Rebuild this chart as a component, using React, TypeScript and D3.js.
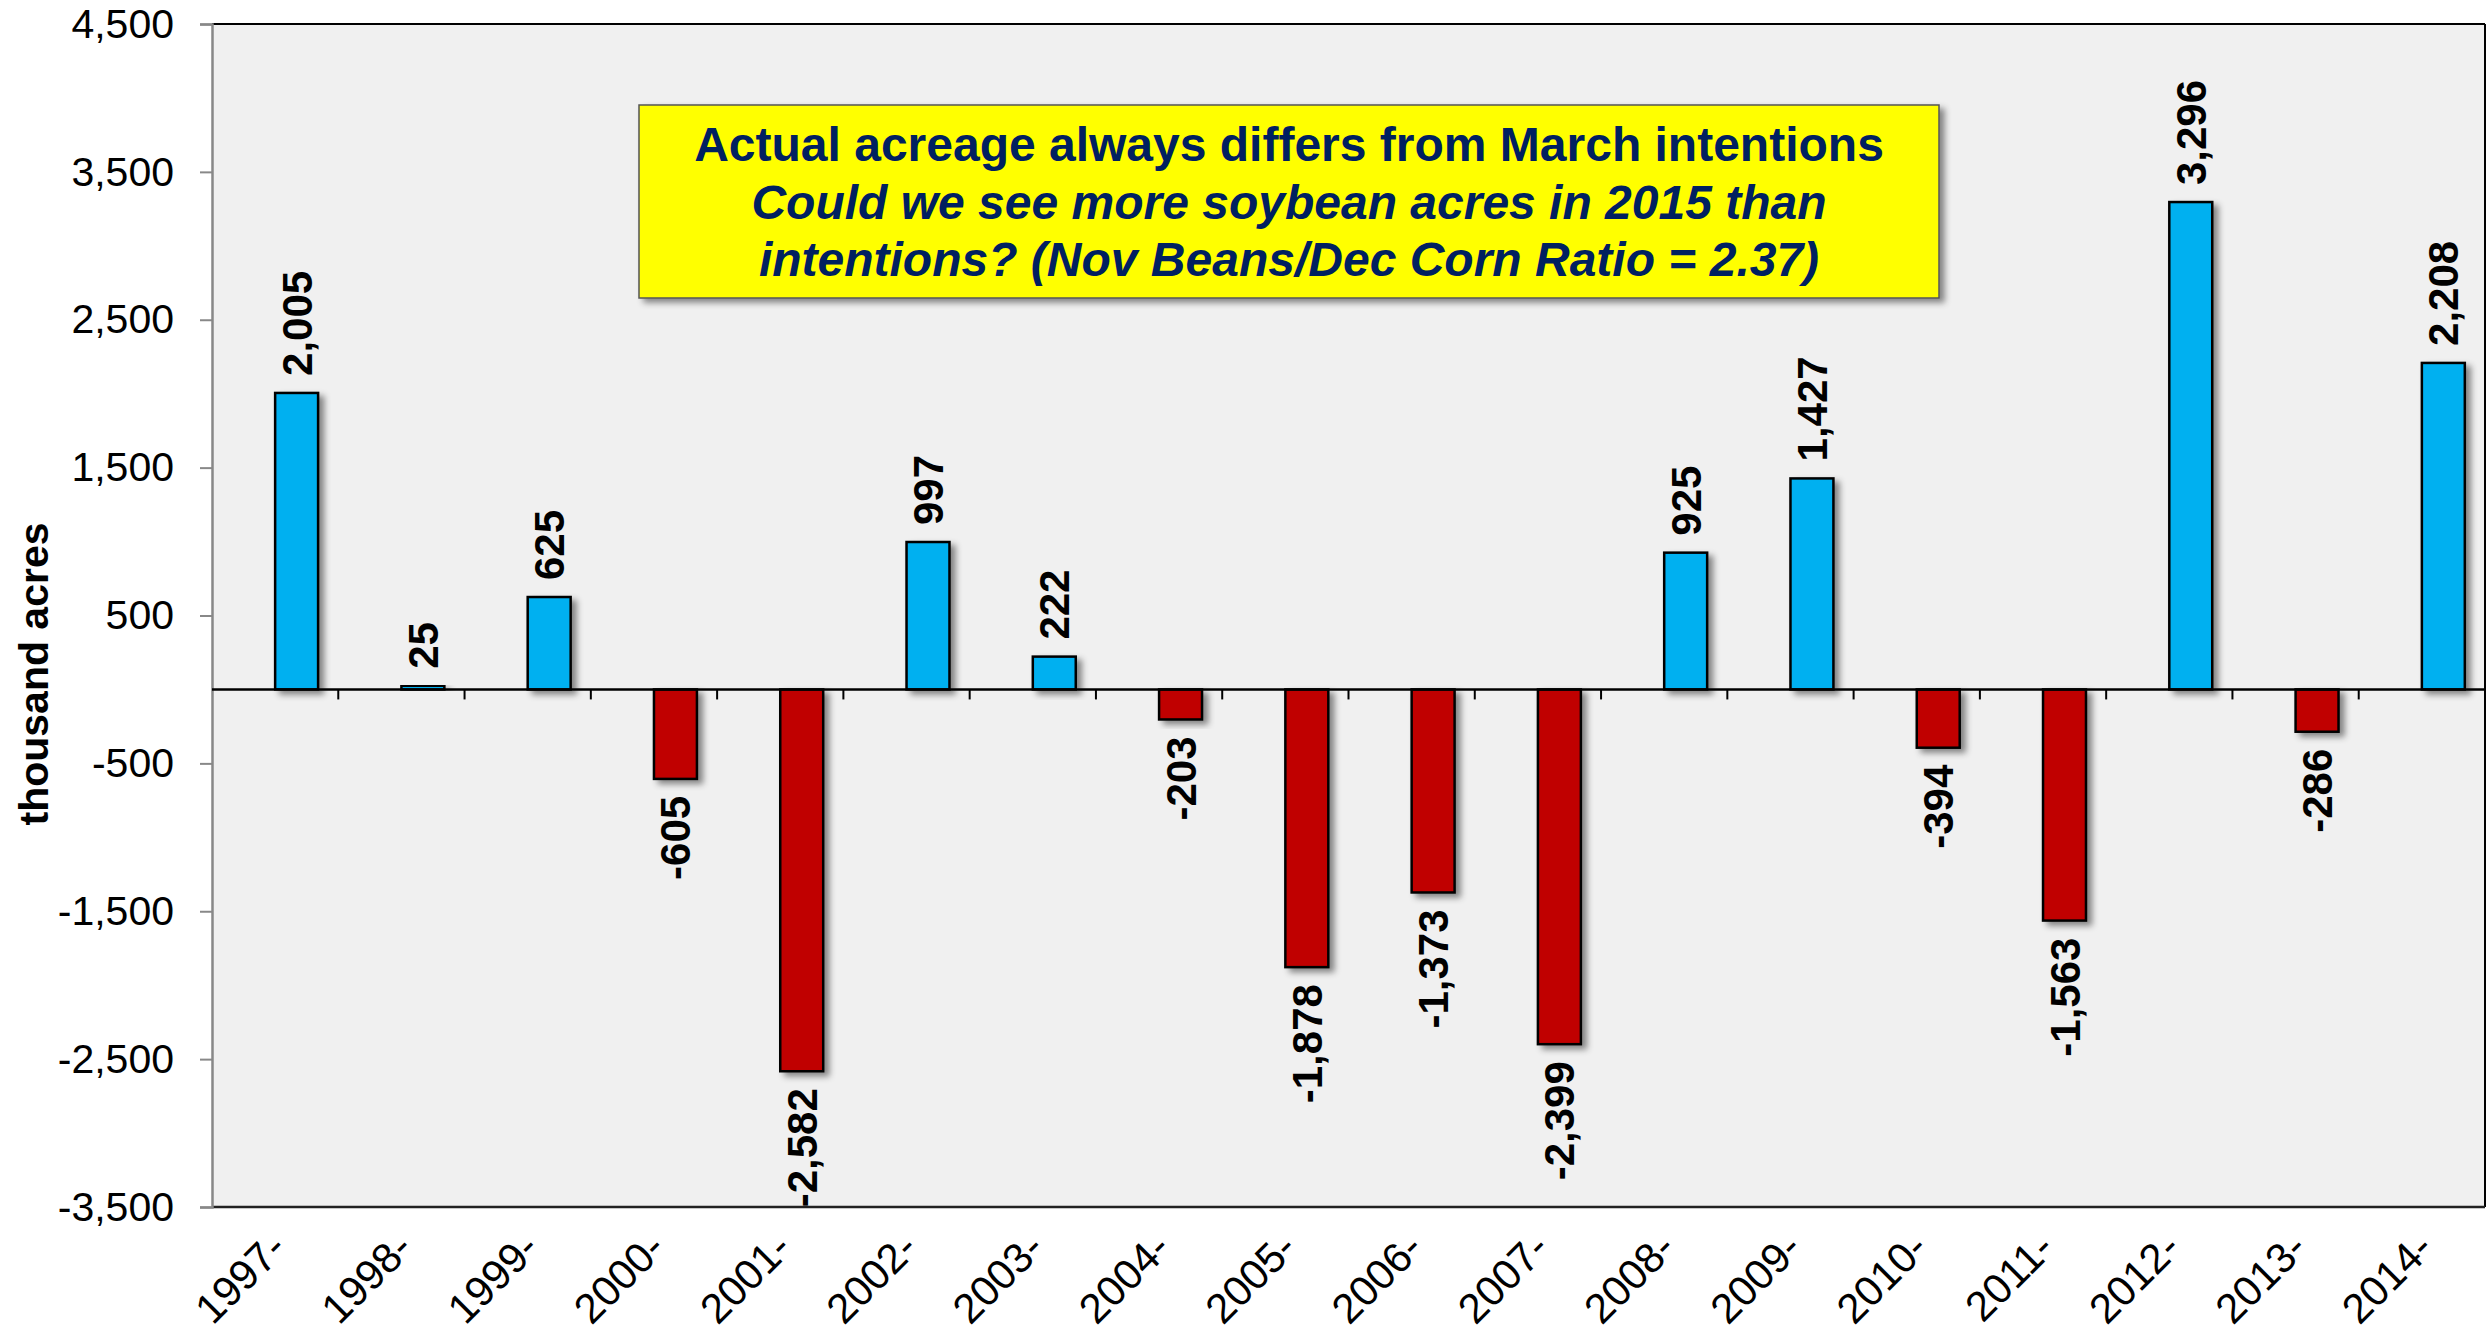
import React, { useRef, useEffect } from 'react';
import * as d3 from 'd3';

const years = ['1997-', '1998-', '1999-', '2000-', '2001-', '2002-', '2003-', '2004-', '2005-', '2006-', '2007-', '2008-', '2009-', '2010-', '2011-', '2012-', '2013-', '2014-'];
const diffs = [2005, 25, 625, -605, -2582, 997, 222, -203, -1878, -1373, -2399, 925, 1427, -394, -1563, 3296, -286, 2208];
const yTicks = [4500, 3500, 2500, 1500, 500, -500, -1500, -2500, -3500];
const titleLines = [
    'Actual acreage always differs from March intentions',
    'Could we see more soybean acres in 2015 than',
    'intentions? (Nov Beans/Dec Corn Ratio = 2.37)',
];

// plain hyphen for negatives, like the original
const fmt = d3.formatLocale({ decimal: '.', thousands: ',', grouping: [3], currency: ['$', ''], minus: '-' }).format(',');

const App = () => {
    const svgRef = useRef(null);

    useEffect(() => {
        document.body.style.margin = '0';
        drawChart();
    }, []);

    const drawChart = () => {
        const svg = d3.select(svgRef.current);
        svg.selectAll('*').remove();

        const width = 2486;
        const height = 1341;
        const left = 212, right = 2485, top = 24, bottom = 1207;
        const font = '"Liberation Sans", Arial, sans-serif';

        svg.attr('width', width).attr('height', height).style('display', 'block');
        svg.append('rect').attr('width', width).attr('height', height).attr('fill', '#fff');

        const defs = svg.append('defs');
        const shadow = defs.append('filter').attr('id', 'shadow')
            .attr('x', '-20%').attr('y', '-20%').attr('width', '150%').attr('height', '150%');
        shadow.append('feDropShadow').attr('dx', 5).attr('dy', 4).attr('stdDeviation', 3)
            .attr('flood-color', '#000').attr('flood-opacity', 0.45);

        const x = d3.scaleBand().domain(years).range([left, right]);
        // Excel-style cluster: an empty slot then the value bar
        const slot = d3.scaleBand().domain(['blank', 'value'])
            .range([0, x.bandwidth()]).paddingInner(0).paddingOuter(0.47);
        const y = d3.scaleLinear().domain([-3500, 4500]).range([bottom, top]);

        // plot background
        svg.append('rect')
            .attr('x', left).attr('y', top)
            .attr('width', right - left).attr('height', bottom - top)
            .attr('fill', '#f0f0f0');

        // frame
        svg.append('line').attr('x1', left).attr('x2', right).attr('y1', top).attr('y2', top)
            .attr('stroke', '#000').attr('stroke-width', 2);
        svg.append('line').attr('x1', right).attr('x2', right).attr('y1', top).attr('y2', bottom)
            .attr('stroke', '#000').attr('stroke-width', 2);
        svg.append('line').attr('x1', left).attr('x2', right).attr('y1', bottom).attr('y2', bottom)
            .attr('stroke', '#222').attr('stroke-width', 2.5);

        // y axis
        const yAxis = svg.append('g')
            .attr('transform', `translate(${left},0)`)
            .call(d3.axisLeft(y).tickValues(yTicks).tickSize(12).tickPadding(26)
                .tickFormat(fmt));
        yAxis.select('.domain').attr('stroke', '#888').attr('stroke-width', 2.5);
        yAxis.selectAll('.tick line').attr('stroke', '#888').attr('stroke-width', 2);
        yAxis.selectAll('.tick text')
            .attr('font-family', font).attr('font-size', 41).attr('fill', '#000');

        svg.append('text')
            .attr('transform', `translate(48,674) rotate(-90)`)
            .attr('text-anchor', 'middle')
            .attr('font-family', font).attr('font-size', 41).attr('font-weight', 'bold')
            .text('thousand acres');

        // bars
        svg.append('g').selectAll('rect')
            .data(diffs)
            .enter().append('rect')
            .attr('x', (d, i) => x(years[i]) + slot('value'))
            .attr('width', slot.bandwidth())
            .attr('y', d => y(Math.max(0, d)))
            .attr('height', d => Math.abs(y(d) - y(0)))
            .attr('fill', d => d >= 0 ? '#00b0f0' : '#c00000')
            .attr('stroke', '#000')
            .attr('stroke-width', 2.5)
            .attr('filter', 'url(#shadow)');

        // zero axis with category ticks
        svg.append('line').attr('x1', left).attr('x2', right).attr('y1', y(0)).attr('y2', y(0))
            .attr('stroke', '#000').attr('stroke-width', 2.5);
        svg.append('g').selectAll('line')
            .data(years.slice(1))
            .enter().append('line')
            .attr('x1', d => x(d)).attr('x2', d => x(d))
            .attr('y1', y(0)).attr('y2', y(0) + 10)
            .attr('stroke', '#000').attr('stroke-width', 2);

        // value labels
        svg.append('g').selectAll('text')
            .data(diffs)
            .enter().append('text')
            .attr('transform', (d, i) => {
                const cx = x(years[i]) + slot('value') + slot.bandwidth() / 2 + 15;
                const cy = d >= 0 ? y(d) - 17 : y(d) + 17;
                return `translate(${cx},${cy}) rotate(-90)`;
            })
            .attr('text-anchor', d => d >= 0 ? 'start' : 'end')
            .attr('font-family', font).attr('font-size', 42).attr('font-weight', 'bold')
            .attr('fill', '#000')
            .text(d => fmt(d));

        // category labels
        svg.append('g').selectAll('text')
            .data(years)
            .enter().append('text')
            .attr('transform', d => {
                const cx = x(d) + slot('value') + slot.bandwidth() / 2 - 8;
                return `translate(${cx},1250) rotate(-45)`;
            })
            .attr('text-anchor', 'end')
            .attr('font-family', font).attr('font-size', 42)
            .attr('fill', '#000')
            .text(d => d);

        // annotation box
        const bx = 639, by = 105, bw = 1300, bh = 193;
        svg.append('rect')
            .attr('x', bx).attr('y', by).attr('width', bw).attr('height', bh)
            .attr('fill', '#ffff00').attr('stroke', '#555').attr('stroke-width', 1.5)
            .attr('filter', 'url(#shadow)');
        const baselines = [161, 219, 276];
        svg.append('g').selectAll('text')
            .data(titleLines)
            .enter().append('text')
            .attr('x', bx + bw / 2)
            .attr('y', (d, i) => baselines[i])
            .attr('text-anchor', 'middle')
            .attr('font-family', font).attr('font-size', 48).attr('font-weight', 'bold')
            .attr('font-style', (d, i) => i === 0 ? 'normal' : 'italic')
            .attr('fill', '#002060')
            .text(d => d);
    };

    return (
        <svg ref={svgRef}></svg>
    );
};

export default App;
